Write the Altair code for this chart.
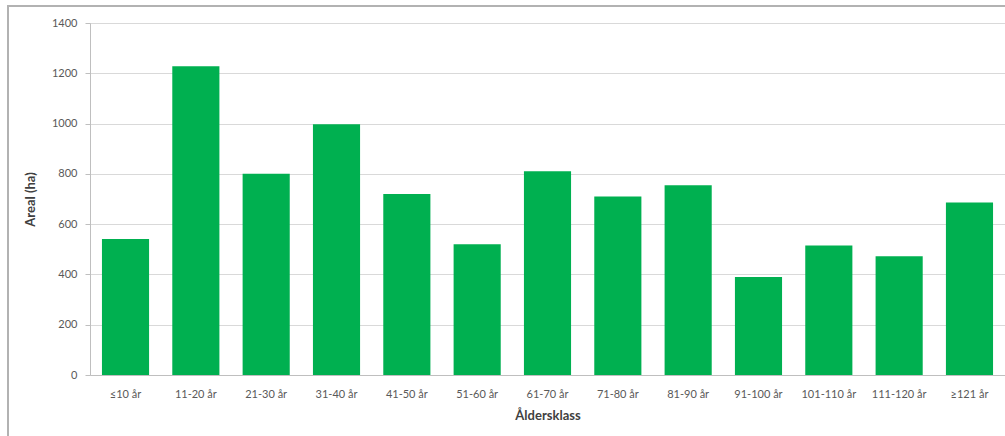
import altair as alt
import pandas as pd

# Area per age class (hectares)
age_classes = ["≤10 år", "11-20 år", "21-30 år", "31-40 år", "41-50 år", "51-60 år",
               "61-70 år", "71-80 år", "81-90 år", "91-100 år", "101-110 år",
               "111-120 år", "≥121 år"]
area_ha = [541, 1228, 800, 997, 720, 520, 810, 710, 755, 390, 515, 472, 686]

df = pd.DataFrame({"klass": age_classes, "areal": area_ha})

FONT = "Lato"
TEXT = "#595959"

bars = alt.Chart(df).mark_bar(color="#00B050").encode(
    x=alt.X("klass:N", sort=age_classes,
            scale=alt.Scale(paddingInner=0.33, paddingOuter=0.17),
            axis=alt.Axis(title="Åldersklass", labelAngle=0, ticks=False,
                          labelPadding=13, labelFontSize=11, labelColor=TEXT,
                          labelFont=FONT, titleFont=FONT, titleFontSize=13,
                          titleFontWeight="bold", titleColor="#404040",
                          titlePadding=10, domainColor="#bfbfbf", grid=False)),
    y=alt.Y("areal:Q", scale=alt.Scale(domain=[0, 1400], nice=False),
            axis=alt.Axis(title="Areal (ha)", values=list(range(0, 1401, 200)),
                          format="d", tickSize=5, tickColor="#bfbfbf",
                          domainColor="#bfbfbf", labelFontSize=11,
                          labelColor=TEXT, labelFont=FONT, labelPadding=8,
                          titleFont=FONT, titleFontSize=13,
                          titleFontWeight="bold", titleColor="#404040",
                          titlePadding=14, gridColor="#d9d9d9")),
)

# Outer frame around the chart
frame = alt.Chart(df).mark_rect(fill=None, stroke="#b3b3b3", strokeWidth=1.5,
                                clip=False).encode(
    x=alt.value(-82), x2=alt.value(940),
    y=alt.value(-17), y2=alt.value(480),
)

chart = alt.layer(bars, frame).properties(
    width=915, height=352,
    padding={"left": 90, "top": 23, "right": 0, "bottom": 61},
    autosize=alt.AutoSizeParams(type="none"),
).configure_view(stroke=None).configure(background="white")

chart.save("out.html", embed_options={"renderer": "svg", "actions": False})
